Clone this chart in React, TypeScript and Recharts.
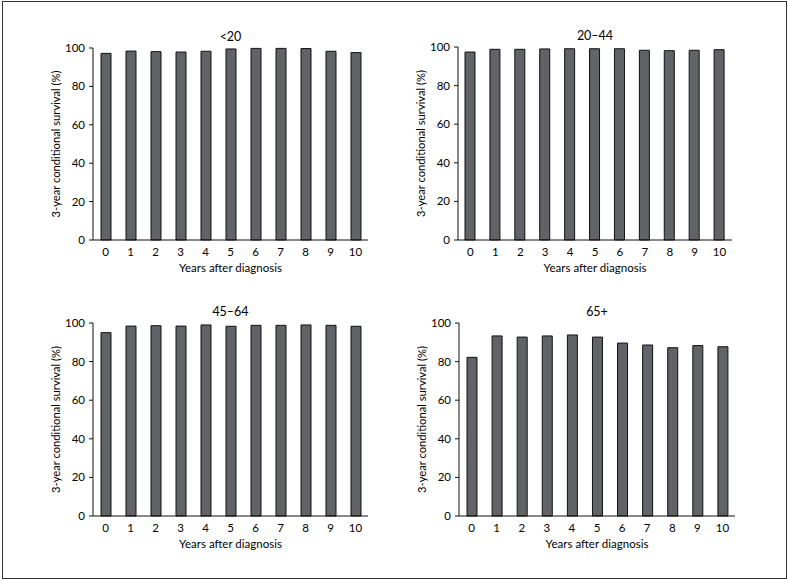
import { BarChart, Bar, XAxis, YAxis } from 'recharts'

const years = ['0', '1', '2', '3', '4', '5', '6', '7', '8', '9', '10']
const under20 = [97.2, 98.4, 98.1, 97.9, 98.3, 99.5, 99.8, 99.8, 99.7, 98.3, 97.6]
const age20to44 = [97.4, 98.8, 98.8, 99.0, 99.1, 99.1, 99.1, 98.3, 98.1, 98.3, 98.6]
const age45to64 = [95.0, 98.4, 98.6, 98.4, 99.0, 98.3, 98.8, 98.8, 99.0, 98.8, 98.3]
const age65plus = [82.2, 93.3, 92.7, 93.3, 93.8, 92.7, 89.6, 88.6, 87.2, 88.3, 87.7]
const yTicks = [0, 20, 40, 60, 80, 100]

const FONT = 'Lato, "DejaVu Sans", sans-serif'
const BAR_FILL = '#626367'

const panels = [
  { title: '<20', values: under20, left: 0, top: 0, margin: { top: 48, right: 26, bottom: 20, left: 53 } },
  { title: '20–44', values: age20to44, left: 394, top: 0, margin: { top: 47, right: 56, bottom: 20, left: 24 } },
  { title: '45–64', values: age45to64, left: 0, top: 290, margin: { top: 33, right: 26, bottom: 34, left: 53 } },
  { title: '65+', values: age65plus, left: 394, top: 290, margin: { top: 33, right: 53, bottom: 34, left: 25 } },
]

const W = 394
const H = 290

function YLabel({ viewBox }: any) {
  const cx = viewBox.x + viewBox.width - 38
  const cy = viewBox.y + viewBox.height / 2
  return (
    <text
      x={cx}
      y={cy}
      transform={`rotate(-90 ${cx} ${cy})`}
      textAnchor="middle"
      dominantBaseline="central"
      fontSize={11.2}
      fill="#000"
      fontFamily={FONT}
    >
      3-year conditional survival (%)
    </text>
  )
}

function XLabel({ viewBox }: any) {
  const cx = viewBox.x + viewBox.width / 2
  return (
    <text
      x={cx}
      y={viewBox.y + 27}
      textAnchor="middle"
      dominantBaseline="central"
      fontSize={11.5}
      fill="#000"
      fontFamily={FONT}
    >
      Years after diagnosis
    </text>
  )
}

function Panel({ title, values, left, top, margin }: (typeof panels)[number]) {
  const data = years.map((year, i) => ({ year, value: values[i] }))
  const plotLeft = margin.left + 40
  const plotWidth = W - plotLeft - margin.right
  return (
    <div style={{ position: 'absolute', left, top, width: W, height: H }}>
      <div
        style={{
          position: 'absolute',
          left: plotLeft,
          width: plotWidth,
          top: margin.top - 19,
          textAlign: 'center',
          fontFamily: FONT,
          fontSize: 12.5,
          color: '#000',
          lineHeight: '16px',
        }}
      >
        {title}
      </div>
      <BarChart width={W} height={H} data={data} margin={margin} barCategoryGap="0%">
        <XAxis
          dataKey="year"
          height={30}
          tickLine={false}
          axisLine={{ stroke: '#111', strokeWidth: 1 }}
          tick={{ fontSize: 11.5, fill: '#000', fontFamily: FONT }}
          interval={0}
          label={<XLabel />}
        />
        <YAxis
          width={40}
          domain={[0, 100]}
          ticks={yTicks}
          tickSize={4}
          tickMargin={4}
          axisLine={{ stroke: '#111', strokeWidth: 1 }}
          tickLine={{ stroke: '#111', strokeWidth: 1 }}
          tick={{ fontSize: 11.5, fill: '#000', fontFamily: FONT }}
          label={<YLabel />}
        />
        <Bar dataKey="value" fill={BAR_FILL} stroke="#111" strokeWidth={1} barSize={10} isAnimationActive={false} />
      </BarChart>
    </div>
  )
}

export default function App() {
  return (
    <div style={{ position: 'absolute', left: 0, top: 0, width: 788, height: 580, background: '#fff' }}>
      <div
        style={{
          position: 'absolute',
          left: 2,
          top: 1,
          width: 785,
          height: 578,
          boxSizing: 'border-box',
          border: '1px solid #333',
        }}
      />
      {panels.map((p) => (
        <Panel key={p.title} {...p} />
      ))}
    </div>
  )
}
